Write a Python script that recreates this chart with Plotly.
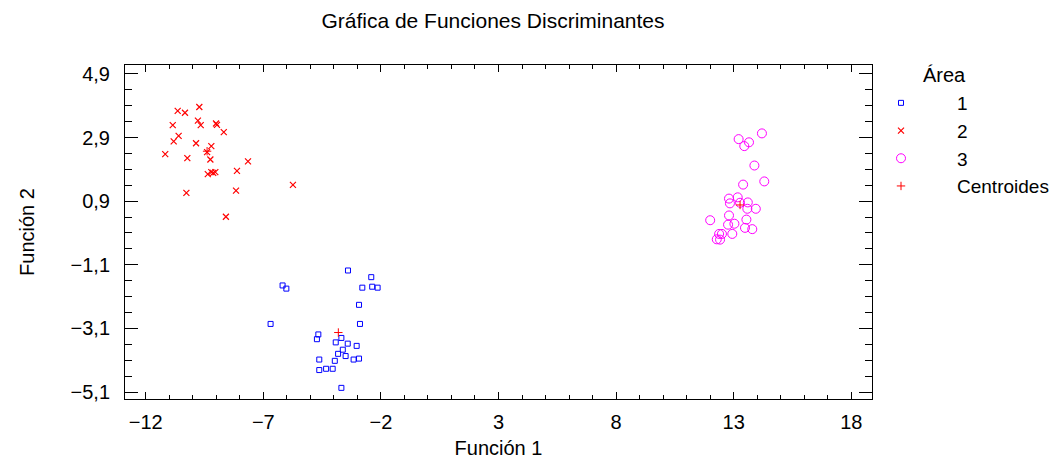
import plotly.graph_objects as go

# Discriminant scores (Función 1, Función 2) per group
area1_f1 = [-3.40, -2.41, -6.18, -6.02, -2.79, -2.37, -2.14, -2.93, -6.69, -2.89,
            -4.66, -4.72, -3.68, -3.92, -3.41, -3.03, -3.62, -3.82, -3.50, -4.62,
            -3.96, -3.16, -2.93, -4.62, -4.33, -4.05, -3.68]
area1_f2 = [-1.28, -1.49, -1.75, -1.85, -1.82, -1.79, -1.82, -2.36, -2.96, -2.96,
            -3.29, -3.44, -3.40, -3.54, -3.58, -3.65, -3.77, -3.90, -3.97, -4.08,
            -4.12, -4.08, -4.05, -4.41, -4.37, -4.37, -4.97]

area2_f1 = [-10.64, -10.33, -9.72, -10.85, -10.60, -9.78, -9.66, -9.01, -8.97, -8.68,
            -10.81, -9.86, -9.21, -9.39, -11.17, -10.23, -9.25, -7.65, -8.12, -9.36,
            -9.21, -9.04, -9.13, -5.74, -10.27, -8.16, -8.59]
area2_f2 = [3.74, 3.68, 3.86, 3.29, 2.95, 3.43, 3.29, 3.34, 3.30, 3.07,
            2.78, 2.72, 2.63, 2.44, 2.38, 2.25, 2.21, 2.15, 1.85, 1.75,
            1.81, 1.81, 1.79, 1.41, 1.16, 1.23, 0.41]

area3_f1 = [14.20, 13.21, 13.65, 13.45, 13.88, 14.30, 13.40, 12.80, 13.17, 12.84,
            13.27, 13.60, 13.58, 13.94, 12.80, 12.00, 13.54, 13.03, 12.76, 13.48,
            13.79, 12.94, 12.38, 12.50, 12.28, 12.42]
area3_f2 = [3.03, 2.85, 2.75, 2.63, 2.02, 1.52, 1.42, 0.98, 1.02, 0.83,
            0.85, 0.86, 0.66, 0.66, 0.45, 0.30, 0.32, 0.19, 0.16, 0.06,
            0.02, -0.13, -0.13, -0.13, -0.30, -0.31]

centroid_f1 = [-3.81, -9.39, 13.27]
centroid_f2 = [-3.23, 2.47, 0.78]

legend_names = ["1", "2", "3", "Centroides"]

FONT = "Liberation Sans, Arial, sans-serif"

fig = go.Figure()
fig.add_trace(go.Scatter(
    x=area1_f1, y=area1_f2, mode="markers", name=legend_names[0],
    marker=dict(symbol="square-open", size=5, color="#0000FF",
                line=dict(width=1, color="#0000FF")),
))
fig.add_trace(go.Scatter(
    x=area2_f1, y=area2_f2, mode="markers", name=legend_names[1],
    marker=dict(symbol="x-thin-open", size=6, color="#FF0000",
                line=dict(width=1.2, color="#FF0000")),
))
fig.add_trace(go.Scatter(
    x=area3_f1, y=area3_f2, mode="markers", name=legend_names[2],
    marker=dict(symbol="circle-open", size=9, color="#FF00FF",
                line=dict(width=1, color="#FF00FF")),
))
fig.add_trace(go.Scatter(
    x=centroid_f1, y=centroid_f2, mode="markers", name=legend_names[3],
    marker=dict(symbol="cross-thin-open", size=6, color="#FF0000",
                line=dict(width=1, color="#FF0000")),
))

axis_common = dict(
    showline=True, linecolor="black", linewidth=1, mirror="allticks",
    showgrid=False, zeroline=False, ticks="inside", tickcolor="black",
    tickwidth=1, tickfont=dict(family=FONT, size=20, color="black"),
    automargin=False,
)

fig.update_xaxes(
    range=[-12.88, 18.88], tick0=-12, dtick=5, ticklen=7, ticklabelstandoff=5,
    minor=dict(ticks="inside", dtick=1, tick0=-12, ticklen=4, tickcolor="black"),
    title=dict(text="Función 1", font=dict(family=FONT, size=20, color="black"),
               standoff=13),
    **axis_common,
)
fig.update_yaxes(
    range=[-5.32, 5.18], tick0=-5.1, dtick=2, ticklen=13, tickformat=".1f",
    ticklabelstandoff=10,
    minor=dict(ticks="inside", dtick=0.5, tick0=-5.1, ticklen=7, tickcolor="black"),
    title=dict(text="Función 2", font=dict(family=FONT, size=20, color="black"),
               standoff=30),
    **axis_common,
)

plot_w = 1064 - 125 - 192
plot_h = 459 - 65 - 60

fig.update_layout(
    width=1064, height=459,
    margin=dict(l=125, r=192, t=65, b=60, autoexpand=False),
    paper_bgcolor="white", plot_bgcolor="white",
    separators=", ",
    title=dict(text="Gráfica de Funciones Discriminantes", x=0.4926, xref="paper",
               xanchor="center", y=0.955, yanchor="middle",
               font=dict(family=FONT, size=21, color="black")),
    showlegend=True,
    legend=dict(x=(845 - 125) / plot_w, xanchor="left",
                y=1 - (84 - 65) / plot_h, yanchor="top",
                font=dict(family=FONT, size=19, color="black"),
                itemwidth=102, tracegroupgap=0, bgcolor="rgba(0,0,0,0)"),
    annotations=[dict(text="Área",
                      x=(921 - 125) / plot_w, xref="paper", xanchor="left",
                      y=1 - (75 - 65) / plot_h, yref="paper", yanchor="middle",
                      showarrow=False,
                      font=dict(family=FONT, size=20, color="black"))],
)

fig.write_html("out.html")
